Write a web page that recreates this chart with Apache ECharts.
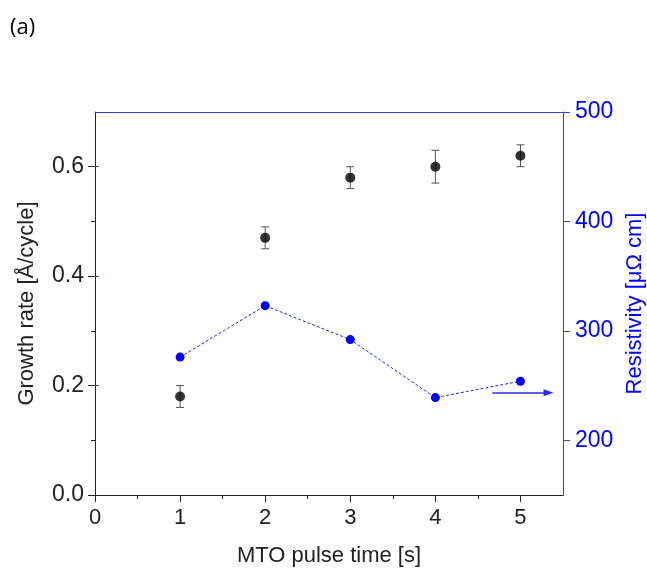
<!DOCTYPE html>
<html>
<head>
<meta charset="utf-8">
<script src="https://cdn.jsdelivr.net/npm/echarts@6/dist/echarts.min.js"></script>
<style>
html,body{margin:0;padding:0;background:#fff;}
#chart{width:647px;height:571px;}
</style>
</head>
<body>
<div id="chart"></div>
<script>
// ---- data ----
const pulseTimes = [1, 2, 3, 4, 5];
const growthRate = [0.18, 0.47, 0.58, 0.60, 0.62];
const growthErr = [0.02, 0.02, 0.02, 0.03, 0.02];
const resistivity = [276, 323, 292, 239, 254];
const xTickLabels = [0, 1, 2, 3, 4, 5];
const xMinorTicks = [0.5, 1.5, 2.5, 3.5, 4.5];
const leftTickLabels = [0, 0.2, 0.4, 0.6];
const leftMinorTicks = [0.1, 0.3, 0.5];
const rightTickLabels = [200, 300, 400, 500];
const rightMinorTicks = [250, 350, 450];
const arrowStart = [4.67, 243.5];
const arrowEnd = [5.33, 243.5];

const BLUE = '#0000ff';
const AXBLUE = '#3b3bd6';
const FONT = 'Liberation Sans, Arial, sans-serif';

const chart = echarts.init(document.getElementById('chart'), null, {renderer: 'canvas'});

const baseHidden = {
  splitLine: {show: false},
  axisLabel: {show: false},
  axisTick: {show: false},
  axisLine: {show: false}
};

const option = {
  animation: false,
  backgroundColor: '#fff',
  grid: {left: 95, right: 84, top: 112, bottom: 76, containLabel: false, outerBoundsMode: 'none'},
  graphic: [{
    type: 'text', left: 10, top: 17,
    style: {text: '(a)', font: '22px "Open Sans", sans-serif', fill: '#000'}
  }],
  xAxis: [
    {
      type: 'value', position: 'bottom', min: 0, max: 5.5,
      name: 'MTO pulse time [s]', nameLocation: 'middle', nameGap: 50,
      nameTextStyle: {fontSize: 22, fontFamily: FONT, color: '#222'},
      axisLine: {show: true, onZero: false, lineStyle: {color: '#222', width: 1}},
      axisTick: {show: true, inside: false, length: 7, customValues: xTickLabels, lineStyle: {color: '#222'}},
      axisLabel: {show: true, customValues: xTickLabels, fontSize: 22, fontFamily: FONT, color: '#222', margin: 12},
      splitLine: {show: false}
    },
    Object.assign({}, baseHidden, {
      type: 'value', position: 'bottom', min: 0, max: 5.5,
      axisTick: {show: true, inside: false, length: 4, customValues: xMinorTicks, lineStyle: {color: '#222'}}
    }),
    Object.assign({}, baseHidden, {
      type: 'value', position: 'top', min: 0, max: 5.5,
      axisLine: {show: true, onZero: false, lineStyle: {color: AXBLUE, width: 1}}
    })
  ],
  yAxis: [
    {
      type: 'value', position: 'left', min: 0, max: 0.7,
      name: 'Growth rate [Å/cycle]', nameLocation: 'middle', nameGap: 57,
      nameTextStyle: {fontSize: 22, fontFamily: FONT, color: '#222'},
      axisLine: {show: true, onZero: false, lineStyle: {color: '#222', width: 1}},
      axisTick: {show: true, inside: false, length: 7, customValues: leftTickLabels, lineStyle: {color: '#222'}},
      axisLabel: {show: true, customValues: leftTickLabels, fontSize: 23, fontFamily: FONT, color: '#222', margin: 11,
        formatter: v => v.toFixed(1)},
      splitLine: {show: false}
    },
    Object.assign({}, baseHidden, {
      type: 'value', position: 'left', min: 0, max: 0.7,
      axisTick: {show: true, inside: false, length: 4, customValues: leftMinorTicks, lineStyle: {color: '#222'}}
    }),
    {
      type: 'value', position: 'right', min: 150, max: 500,
      name: 'Resistivity [μΩ cm]', nameLocation: 'middle', nameGap: 60,
      nameTextStyle: {fontSize: 22, fontFamily: FONT, color: BLUE},
      axisLine: {show: true, onZero: false, lineStyle: {color: AXBLUE, width: 1}},
      axisTick: {show: true, inside: false, length: 7, customValues: rightTickLabels, lineStyle: {color: AXBLUE}},
      axisLabel: {show: true, customValues: rightTickLabels, fontSize: 23, fontFamily: FONT, color: BLUE, margin: 12},
      splitLine: {show: false}
    },
    Object.assign({}, baseHidden, {
      type: 'value', position: 'right', min: 150, max: 500,
      axisTick: {show: true, inside: false, length: 4, customValues: rightMinorTicks, lineStyle: {color: AXBLUE}}
    })
  ],
  series: [
    {
      type: 'custom', xAxisIndex: 0, yAxisIndex: 0, z: 3,
      data: pulseTimes.map((x, i) => [x, growthRate[i], growthErr[i]]),
      renderItem: function (params, api) {
        const x = api.value(0), y = api.value(1), e = api.value(2);
        const lo = api.coord([x, y - e]);
        const hi = api.coord([x, y + e]);
        const w = 4;
        const st = {stroke: '#555', lineWidth: 1};
        return {type: 'group', children: [
          {type: 'line', shape: {x1: lo[0], y1: lo[1], x2: hi[0], y2: hi[1]}, style: st},
          {type: 'line', shape: {x1: lo[0] - w, y1: lo[1], x2: lo[0] + w, y2: lo[1]}, style: st},
          {type: 'line', shape: {x1: hi[0] - w, y1: hi[1], x2: hi[0] + w, y2: hi[1]}, style: st}
        ]};
      }
    },
    {
      type: 'scatter', xAxisIndex: 0, yAxisIndex: 0, z: 5,
      symbol: 'circle', symbolSize: 10,
      itemStyle: {color: '#000'},
      data: pulseTimes.map((x, i) => [x, growthRate[i]])
    },
    {
      type: 'line', xAxisIndex: 0, yAxisIndex: 2, z: 4,
      symbol: 'circle', symbolSize: 9, showSymbol: true,
      itemStyle: {color: BLUE},
      lineStyle: {color: '#2a2ae0', width: 1, type: [3, 2]},
      data: pulseTimes.map((x, i) => [x, resistivity[i]]),
      markLine: {
        silent: true,
        symbol: ['none', 'triangle'],
        symbolSize: [7, 10],
        label: {show: false},
        lineStyle: {color: '#2a2ae0', width: 1.5, type: 'solid'},
        data: [[{coord: arrowStart}, {coord: arrowEnd}]]
      }
    }
  ]
};
chart.setOption(option);
</script>
</body>
</html>
